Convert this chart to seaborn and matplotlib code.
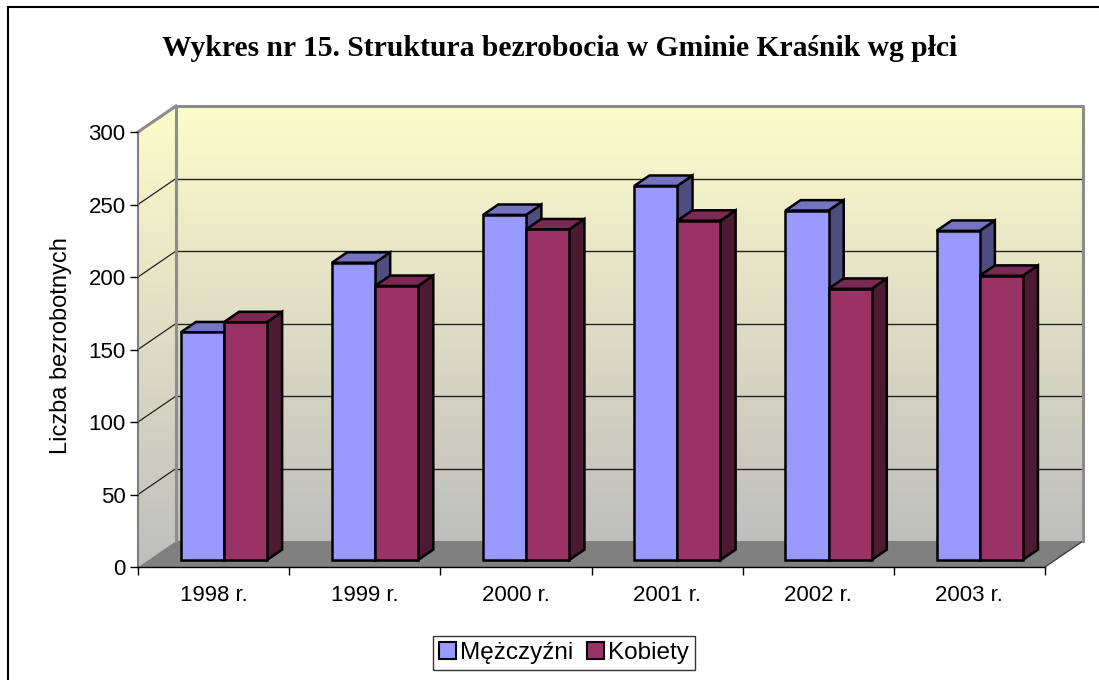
import numpy as np
import pandas as pd
import matplotlib
matplotlib.use('Agg')
import matplotlib.pyplot as plt
import seaborn as sns
from matplotlib.patches import Polygon, Patch, Rectangle

# dane
lata = ['1998 r.', '1999 r.', '2000 r.', '2001 r.', '2002 r.', '2003 r.']
mezczyzni = [157, 205, 238, 258, 241, 227]
kobiety = [164, 189, 228, 234, 187, 196]
serie = ['Mężczyźni', 'Kobiety']
yticks = [0, 50, 100, 150, 200, 250, 300]

kolory = {'Mężczyźni': '#9999FF', 'Kobiety': '#993366'}
kolor_gora = {'Mężczyźni': '#7474C2', 'Kobiety': '#7A2952'}
kolor_bok = {'Mężczyźni': '#4D4D80', 'Kobiety': '#4D1A33'}

df = pd.DataFrame({
    'rok': lata * 2,
    'liczba': mezczyzni + kobiety,
    'plec': [serie[0]] * len(lata) + [serie[1]] * len(lata),
})

plt.rcParams['font.family'] = ['Liberation Sans', 'DejaVu Sans']

W, H = 1099, 680
fig = plt.figure(figsize=(W / 100, H / 100), dpi=100)

# przednia plaszczyzna wykresu (piksele)
x0, x1, yb, yt = 138, 1045, 567, 132
ax = fig.add_axes([x0 / W, 1 - yb / H, (x1 - x0) / W, (yb - yt) / H])
ax.set_facecolor('none')

sns.barplot(data=df, x='rok', y='liczba', hue='plec', palette=kolory,
            width=0.57, saturation=1, edgecolor='black', linewidth=1.8,
            legend=False, ax=ax)
bars = sorted(ax.patches, key=lambda p: p.get_x())

ax.set_xlim(-0.5, 5.5)
ax.set_ylim(0, 300)

# glebokosc 3D przeliczona z pikseli na jednostki danych
px_x = (x1 - x0) / 6
px_y = (yb - yt) / 300
DX = 38 / px_x
DY = 26 / px_y
f, b = 0.27, 0.67

# sciany: tylna i boczna z gradientem
top = np.array([253, 252, 203]) / 255
bot = np.array([190, 190, 190]) / 255
t = np.linspace(0, 1, 256)[:, None]
grad = (top * (1 - t) + bot * t)[:, None, :]

im = ax.imshow(grad, extent=(-0.5 + DX, 5.5 + DX, DY, 300 + DY),
               aspect='auto', zorder=0.1, interpolation='bilinear')
im.set_clip_on(False)

side = Polygon([(-0.5, 0), (-0.5, 300), (-0.5 + DX, 300 + DY), (-0.5 + DX, DY)],
               closed=True, facecolor='none', edgecolor='none', zorder=0.2,
               clip_on=False)
ax.add_patch(side)
im2 = ax.imshow(grad, extent=(-0.5, -0.5 + DX, 0, 300 + DY),
                aspect='auto', zorder=0.2, interpolation='bilinear')
im2.set_clip_path(side)
im2.set_clip_box(fig.bbox)

floor = Polygon([(-0.5, 0), (5.5, 0), (5.5 + DX, DY), (-0.5 + DX, DY)],
                closed=True, facecolor='#808080', edgecolor='none',
                zorder=0.5, clip_on=False)
ax.add_patch(floor)
ax.plot([5.5, 5.5 + DX], [0, DY], color='#404040', lw=1, zorder=0.6, clip_on=False)

# linie siatki
for v in yticks[1:-1]:
    ax.plot([-0.5 + DX, 5.5 + DX], [v + DY, v + DY], color='#222222', lw=1,
            zorder=0.6, clip_on=False)
    ax.plot([-0.5, -0.5 + DX], [v, v + DY], color='#222222', lw=0.9,
            zorder=0.6, clip_on=False)

# ramka tylnej sciany
ax.plot([-0.5 + DX, -0.5 + DX, 5.5 + DX, 5.5 + DX],
        [DY, 300 + DY, 300 + DY, DY], color='#8C8C8C', lw=2.2,
        zorder=0.7, clip_on=False)
ax.plot([-0.5, -0.5 + DX], [300, 300 + DY], color='#8C8C8C', lw=2.2,
        zorder=0.7, clip_on=False)

# slupki 3D
for i, p in enumerate(bars):
    seria = serie[0] if p.get_facecolor()[2] > 0.9 else serie[1]
    x, w, h = p.get_x(), p.get_width(), p.get_height()
    z = 2 + i
    p.set_xy((x + f * DX, f * DY))
    p.set_zorder(z + 0.5)
    p.set_clip_on(False)
    p.set_joinstyle('miter')
    gora = Polygon([(x + f * DX, h + f * DY), (x + w + f * DX, h + f * DY),
                    (x + w + b * DX, h + b * DY), (x + b * DX, h + b * DY)],
                   closed=True, facecolor=kolor_gora[seria], edgecolor='black',
                   lw=1.8, zorder=z, clip_on=False, joinstyle='miter')
    bok = Polygon([(x + w + f * DX, f * DY), (x + w + f * DX, h + f * DY),
                   (x + w + b * DX, h + b * DY), (x + w + b * DX, b * DY)],
                  closed=True, facecolor=kolor_bok[seria], edgecolor='black',
                  lw=1.8, zorder=z, clip_on=False, joinstyle='miter')
    ax.add_patch(bok)
    ax.add_patch(gora)

# osie
for s in ['top', 'right']:
    ax.spines[s].set_visible(False)
ax.spines['left'].set_color('#7F7F7F')
ax.spines['left'].set_linewidth(1.5)
ax.spines['bottom'].set_color('black')
ax.spines['bottom'].set_linewidth(1)
ax.spines['left'].set_zorder(1)
ax.spines['bottom'].set_zorder(1)

ax.set_yticks(yticks)
ax.tick_params(axis='y', length=6, width=1, color='black', labelsize=16, pad=3)
ax.set_xticks(range(len(lata)))
ax.set_xticklabels(lata)
ax.set_xticks(np.arange(-0.5, len(lata), 1), minor=True)
ax.tick_params(axis='x', which='major', length=0, pad=13, labelsize=16)
ax.tick_params(axis='x', which='minor', length=6, width=1, color='black')
ax.set_xlabel('')
ax.set_ylabel('')

fig.text(61 / W, 1 - 346 / H, 'Liczba bezrobotnych', rotation=90,
         ha='center', va='center', fontsize=17)

fig.text(560 / W, 1 - 48 / H,
         'Wykres nr 15. Struktura bezrobocia w Gminie Kraśnik wg płci',
         ha='center', va='center', fontsize=21.3, fontweight='bold',
         family=['Liberation Serif', 'DejaVu Serif'])

handles = [Patch(facecolor=kolory[s], edgecolor='black', lw=1.5) for s in serie]
leg = fig.legend(handles, serie, loc='center', bbox_to_anchor=(564 / W, 1 - 653 / H),
                 ncol=2, frameon=True, fancybox=False, edgecolor='black',
                 fontsize=17.5, handlelength=0.7, handleheight=0.7,
                 handletextpad=0.15, columnspacing=0.6, borderpad=0.25,
                 borderaxespad=0)
leg.get_frame().set_linewidth(1)

# ramka obszaru wykresu
fig.add_artist(Rectangle((8 / W, -0.1), 1.2, (1 - 7 / H) + 0.1, fill=False,
                         edgecolor='black', lw=1.5, transform=fig.transFigure))

fig.savefig('out.png', dpi=100, facecolor='white')
